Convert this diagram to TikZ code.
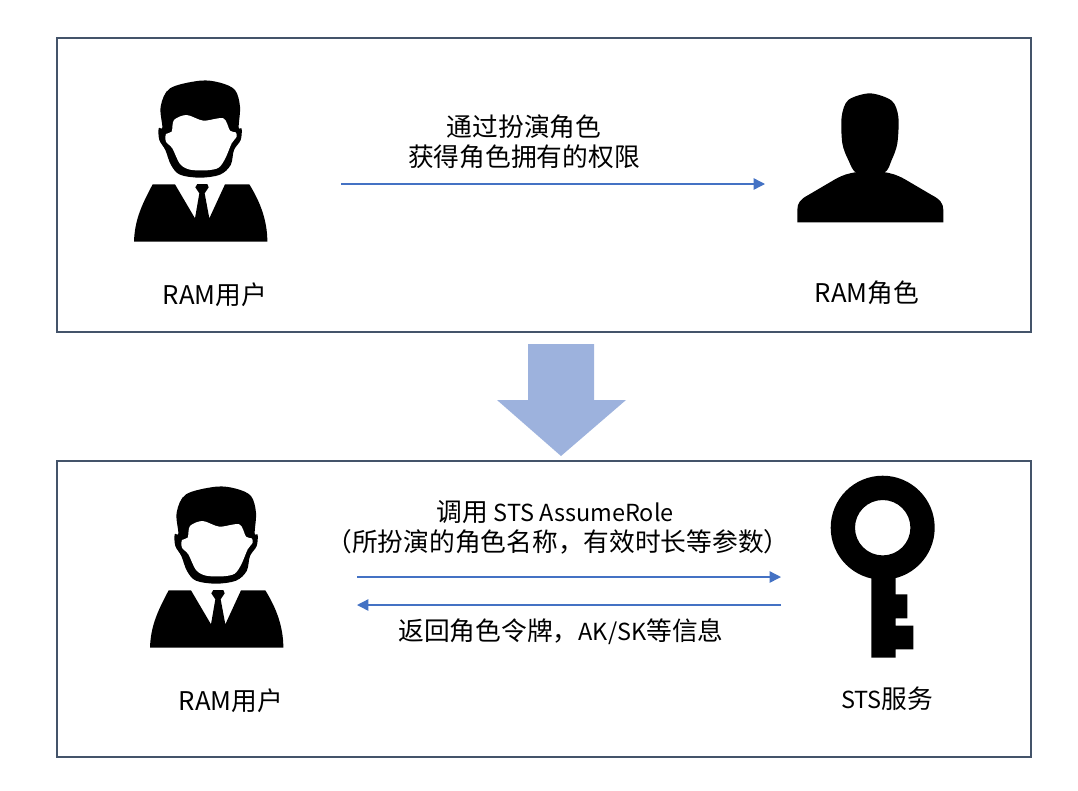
\documentclass[tikz,border=0pt]{standalone}
\usepackage{fontspec}
\setmainfont{Noto Sans CJK SC}[Scale=1]
\usetikzlibrary{arrows.meta}
\definecolor{frameink}{HTML}{44546A}
\definecolor{flowblue}{HTML}{4472C4}
\definecolor{bigarrow}{HTML}{9DB2DD}
\newcommand\smlatin[1]{{\fontsize{17.6}{22.5}\selectfont #1}}
\tikzset{
  panel/.style={draw=frameink,line width=1.5pt},
  flow/.style={draw=flowblue,line width=1.05pt,-{Triangle[length=8.5pt,width=8.5pt]}},
  caption/.style={font=\fontsize{19.3}{22.5}\selectfont,align=center,text=black,inner sep=0pt},
  pics/suitman/.style={code={
    \fill[black] plot[smooth cycle,tension=.55] coordinates {(240,32) (300,38) (345,60) (360,110) (356,172) (365,176) (362,210) (342,240) (332,285) (300,314) (240,323) (180,314) (153,285) (136,240) (118,210) (116,175) (127,172) (122,110) (150,55)};
    \fill[white] plot[smooth cycle,tension=.5] coordinates {(162,150) (200,135) (250,152) (310,145) (330,182) (347,187) (350,200) (335,220) (316,265) (296,293) (260,301) (210,299) (180,282) (157,235) (138,215) (138,192) (155,185)};
    \fill[black] (42,515) .. controls (44,450) and (65,405) .. (98,343) -- (165,343) -- (225,445) -- (238,370) -- (226,352) -- (232,342) -- (262,342) -- (266,352) -- (254,370) -- (268,445) -- (315,343) -- (388,343) .. controls (420,395) and (442,450) .. (442,515) -- cycle;
  }},
  pics/rolehead/.style={code={
    \fill[black] plot[smooth cycle,tension=.5] coordinates {(270,40) (335,62) (355,110) (352,190) (335,240) (312,278) (232,280) (205,240) (187,190) (185,110) (205,60)};
    \fill[black] (232,276) .. controls (205,280) and (190,284) .. (165,298) -- (85,345) .. controls (60,358) and (52,370) .. (52,390) -- (52,427) -- (490,427) -- (490,390) .. controls (490,370) and (480,358) .. (455,345) -- (375,298) .. controls (350,284) and (335,280) .. (310,276) -- cycle;
  }},
  pics/stskey/.style={code={
    \fill[black,even odd rule] (882.7,527.7) circle (52) (882.7,527.7) circle (27.7);
    \fill[black] (871.3,570) -- (895.7,570) -- (895.7,594.3) -- (907.3,594.3) -- (907.3,618.3) -- (895.7,618.3) -- (895.7,625.7) -- (913.3,625.7) -- (913.3,649.3) -- (895.7,649.3) -- (895.7,657.7) -- (871.3,657.7) -- cycle;
  }}
}
\begin{document}
\begin{tikzpicture}[x=.75pt,y=-.75pt]
\useasboundingbox (0,0) rectangle (1078,790);
% two panels and the block arrow between them
\draw[panel] (57,38) rectangle (1031,332);
\draw[panel] (57,461) rectangle (1031,757);
\fill[bigarrow] (528,344) -- (594,344) -- (594,400) -- (626,400) -- (561,456) -- (497,400) -- (528,400) -- cycle;
% upper panel
\pic[scale=1/3] at (120,70) {suitman};
\pic[scale=1/3] at (780,80) {rolehead};
\node[caption] (userA) at (215,295) {RAM用户};
\node[caption] (role) at (867,293) {RAM角色};
\node[caption] (assume) at (524,142) {通过扮演角色\\获得角色拥有的权限};
\coordinate (assumeL) at (341,184);
\coordinate (assumeR) at (765,184);
\draw[flow] (assumeL)--(assumeR);
% lower panel
\pic[scale=1/3] at (136,476) {suitman};
\pic at (0,0) {stskey};
\node[caption] (userB) at (231,701) {RAM用户};
\node[caption] (sts) at (887,699) {\smlatin{STS}服务};
\node[caption] (call) at (558,527.5) {\hspace{-4.5pt}调用 \smlatin{STS AssumeRole}\\（所扮演的角色名称，有效时长等参数）};
\node[caption] (reply) at (561,632) {返回角色令牌，\smlatin{AK/SK}等信息};
\coordinate (callL) at (357,577);
\coordinate (callR) at (781,577);
\coordinate (replyR) at (781,605);
\coordinate (replyL) at (357,605);
\draw[flow] (callL)--(callR);
\draw[flow] (replyR)--(replyL);
\end{tikzpicture}
\end{document}
